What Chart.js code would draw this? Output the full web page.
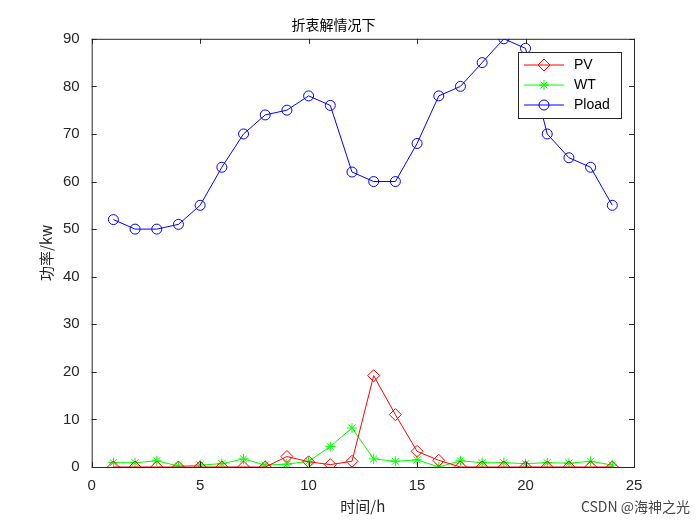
<!DOCTYPE html>
<html>
<head>
<meta charset="utf-8">
<script src="https://cdn.jsdelivr.net/npm/chart.js@4/dist/chart.umd.min.js"></script>
<style>
  body { margin: 0; background: #fff; }
  canvas { display: block; }
</style>
</head>
<body>
<canvas id="c" width="700" height="525"></canvas>
<script>
const hours = [1,2,3,4,5,6,7,8,9,10,11,12,13,14,15,16,17,18,19,20,21,22,23,24]
const pv = [0,0,0,0,0,0,0,0,2.2,1.1,0.5,1.2,19.2,11,3.3,1.4,0,0,0,0,0,0,0,0]
const wt = [0.9,0.9,1.3,0.2,0.4,0.7,1.7,0.4,0.6,1.2,4.3,8.2,1.7,1.2,1.5,0,1.3,0.9,0.9,0.7,0.9,0.8,1.2,0.4]
const pload = [52,50,50,51,55,63,70,74,75,78,76,62,60,60,68,78,80,85,90,88,70,65,63,55]
const xTicks = [0,5,10,15,20,25]
const yTicks = [0,10,20,30,40,50,60,70,80,90]

const font = "'Liberation Sans', 'Noto Sans CJK SC', sans-serif"
const cjk = "'Noto Sans CJK SC', sans-serif"

const series = [
  { label: 'PV', data: pv, color: '#FF0000', style: 'rectRot', radius: 6 },
  { label: 'WT', data: wt, color: '#00FF00', style: 'star', radius: 5 },
  { label: 'Pload', data: pload, color: '#0000FF', style: 'circle', radius: 5 }
]

const frame = {
  afterDraw(chart) {
    const ctx = chart.ctx
    const a = chart.chartArea
    const xs = chart.scales.x, ys = chart.scales.y
    ctx.save()
    ctx.strokeStyle = '#262626'
    ctx.lineWidth = 1
    ctx.strokeRect(a.left + 0.5, a.top + 0.5, a.right - a.left, a.bottom - a.top)
    ctx.beginPath()
    xTicks.forEach(v => {
      const x = Math.round(xs.getPixelForValue(v)) + 0.5
      ctx.moveTo(x, a.bottom); ctx.lineTo(x, a.bottom - 5)
      ctx.moveTo(x, a.top); ctx.lineTo(x, a.top + 5)
    })
    yTicks.forEach(v => {
      const y = Math.round(ys.getPixelForValue(v)) + 0.5
      ctx.moveTo(a.left, y); ctx.lineTo(a.left + 5, y)
      ctx.moveTo(a.right, y); ctx.lineTo(a.right - 5, y)
    })
    ctx.stroke()

    // legend
    const lx = 518, ly = 52, lw = 103, lh = 66
    ctx.fillStyle = '#fff'
    ctx.fillRect(lx, ly, lw, lh)
    ctx.strokeStyle = '#262626'
    ctx.strokeRect(lx + 0.5, ly + 0.5, lw, lh)
    ctx.font = '14px ' + font
    ctx.textBaseline = 'middle'
    series.forEach((s, i) => {
      const y = ly + 13 + i * 20
      ctx.strokeStyle = s.color
      ctx.fillStyle = 'rgba(0,0,0,0)'
      ctx.beginPath(); ctx.moveTo(lx + 6, y); ctx.lineTo(lx + 46, y); ctx.stroke()
      Chart.helpers.drawPoint(ctx, { pointStyle: s.style, radius: s.radius, borderWidth: 1 }, lx + 26, y)
      ctx.fillStyle = '#000'
      ctx.fillText(s.label, lx + 56, y)
    })

    ctx.fillStyle = '#444'
    ctx.font = '14px ' + cjk
    ctx.textAlign = 'right'
    ctx.fillText('CSDN @海神之光', 690, 507)
    ctx.restore()
  }
}

new Chart(document.getElementById('c'), {
  type: 'line',
  data: {
    labels: hours,
    datasets: series.map(s => ({
      label: s.label,
      data: hours.map((h, i) => ({ x: h, y: s.data[i] })),
      borderColor: s.color,
      backgroundColor: 'transparent',
      borderWidth: 1,
      pointStyle: s.style,
      pointRadius: s.radius,
      pointBorderColor: s.color,
      pointBackgroundColor: 'transparent',
      pointBorderWidth: 1,
      tension: 0
    }))
  },
  options: {
    responsive: false,
    animation: false,
    layout: { padding: { top: 16, right: 66, bottom: 6, left: 33 } },
    plugins: {
      legend: { display: false },
      tooltip: { enabled: false },
      title: { display: true, text: '折衷解情况下', color: '#000', font: { family: cjk, size: 14, weight: 'normal' }, padding: { top: 0, bottom: 6 } }
    },
    scales: {
      x: {
        type: 'linear', min: 0, max: 25,
        afterBuildTicks: s => { s.ticks = xTicks.map(v => ({ value: v })) },
        grid: { display: false },
        border: { display: false },
        ticks: { color: '#262626', font: { family: font, size: 15 }, padding: 2 },
        title: { display: true, text: '时间/h', color: '#262626', font: { family: cjk, size: 15 }, padding: { top: 0 } }
      },
      y: {
        min: 0, max: 90,
        afterBuildTicks: s => { s.ticks = yTicks.map(v => ({ value: v })) },
        grid: { display: false },
        border: { display: false },
        ticks: { color: '#262626', font: { family: font, size: 15 }, padding: 4 },
        title: { display: true, text: '功率/kw', color: '#262626', font: { family: cjk, size: 15 } }
      }
    }
  },
  plugins: [frame]
})
</script>
</body>
</html>
